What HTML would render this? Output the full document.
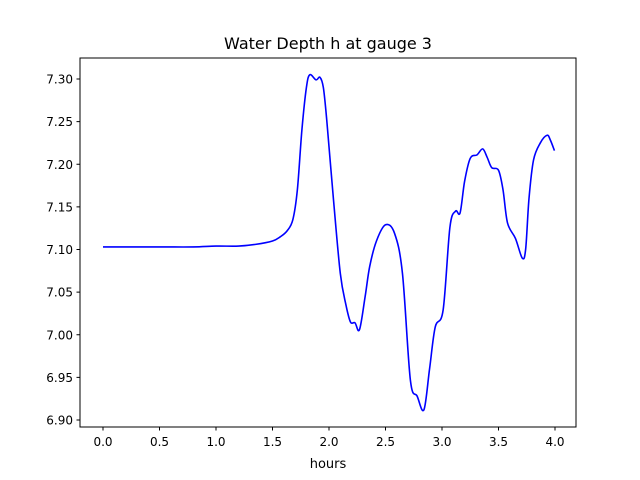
<!DOCTYPE html>
<html><head><meta charset="utf-8"><style>
body{margin:0;background:#fff}
svg{display:block;font-family:"DejaVu Sans","Liberation Sans",sans-serif}
</style></head><body>
<svg id="chart" width="640" height="480">
<rect width="640" height="480" fill="#fff"/>
<text x="328" y="49" font-size="16" text-anchor="middle">Water Depth h at gauge 3</text>
<g id="plot"></g>
<rect x="80" y="58" width="496" height="369" fill="none" stroke="#000" stroke-width="1"/>
<text x="328" y="468" font-size="13" text-anchor="middle">hours</text>
</svg>
<script>
const xs=[0,0.5,0.8,1.0,1.2,1.35,1.5,1.57,1.63,1.68,1.72,1.76,1.8,1.83,1.885,1.92,1.95,1.98,2.04,2.10,2.15,2.19,2.23,2.27,2.32,2.36,2.42,2.50,2.58,2.65,2.72,2.78,2.84,2.89,2.94,3.01,3.07,3.12,3.16,3.20,3.25,3.31,3.36,3.40,3.44,3.50,3.54,3.58,3.65,3.71,3.74,3.77,3.81,3.87,3.93,3.96,3.995];
const ys=[7.103,7.103,7.103,7.104,7.104,7.106,7.110,7.115,7.122,7.135,7.17,7.24,7.29,7.305,7.299,7.302,7.29,7.252,7.158,7.072,7.035,7.015,7.014,7.006,7.045,7.08,7.11,7.129,7.119,7.072,6.947,6.928,6.912,6.96,7.009,7.029,7.126,7.145,7.143,7.18,7.207,7.211,7.218,7.208,7.196,7.193,7.17,7.131,7.113,7.09,7.10,7.16,7.205,7.225,7.234,7.228,7.216];
const xTicks=[0,0.5,1.0,1.5,2.0,2.5,3.0,3.5,4.0];
const yTicks=[6.90,6.95,7.00,7.05,7.10,7.15,7.20,7.25,7.30];
function sx(v){return 103+v*113;}
function sy(v){return 79+(7.30-v)*852.5;}
const g=document.getElementById('plot');
const NS='http://www.w3.org/2000/svg';
xTicks.forEach(t=>{
  const l=document.createElementNS(NS,'line');
  l.setAttribute('x1',sx(t));l.setAttribute('x2',sx(t));l.setAttribute('y1',427);l.setAttribute('y2',430.5);l.setAttribute('stroke','#000');
  
  
  g.appendChild(l);
  const tx=document.createElementNS(NS,'text');
  tx.setAttribute('x',sx(t));tx.setAttribute('y',446);tx.setAttribute('font-size','12');tx.setAttribute('text-anchor','middle');
  tx.textContent=t.toFixed(1);
  
  
  g.appendChild(tx);
});
yTicks.forEach(t=>{
  const l=document.createElementNS(NS,'line');
  l.setAttribute('x1',76.5);l.setAttribute('x2',80);l.setAttribute('y1',sy(t));l.setAttribute('y2',sy(t));l.setAttribute('stroke','#000');
  
  
  g.appendChild(l);
  const tx=document.createElementNS(NS,'text');
  tx.setAttribute('x',73);tx.setAttribute('y',sy(t)+4.5);tx.setAttribute('font-size','12');tx.setAttribute('text-anchor','end');
  tx.textContent=t.toFixed(2);
  
  
  g.appendChild(tx);
});
const P=xs.map((x,i)=>[sx(x),sy(ys[i])]);
let d='M'+P[0][0]+','+P[0][1];
for(let i=0;i<P.length-1;i++){
  const p0=P[Math.max(0,i-1)],p1=P[i],p2=P[i+1],p3=P[Math.min(P.length-1,i+2)];
  const c1=[p1[0]+(p2[0]-p0[0])/6,p1[1]+(p2[1]-p0[1])/6];
  const c2=[p2[0]-(p3[0]-p1[0])/6,p2[1]-(p3[1]-p1[1])/6];
  d+=`C${c1[0]},${c1[1]} ${c2[0]},${c2[1]} ${p2[0]},${p2[1]}`;
}
const path=document.createElementNS(NS,'path');
path.setAttribute('d',d);path.setAttribute('fill','none');path.setAttribute('stroke','#0000ff');path.setAttribute('stroke-width','1.6');


g.appendChild(path);
</script>
</body></html>
